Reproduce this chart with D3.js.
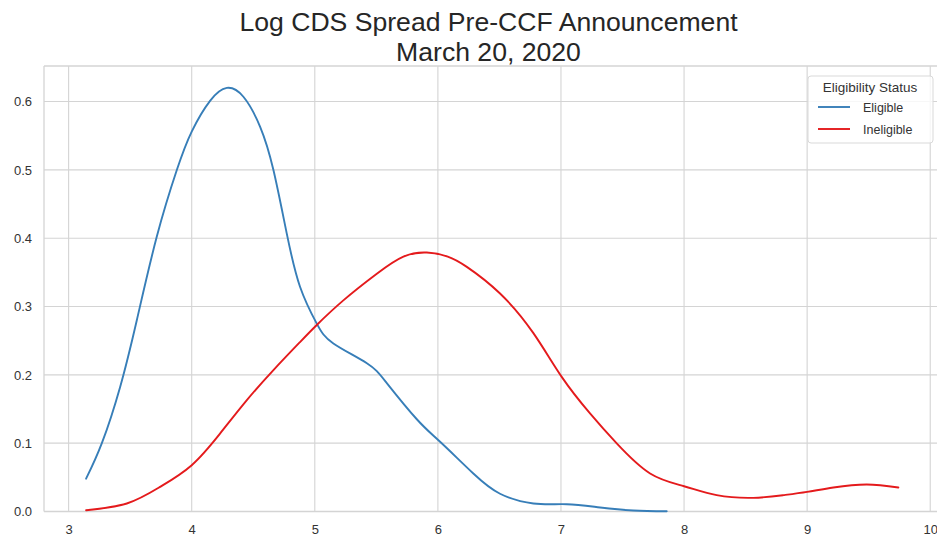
<!DOCTYPE html>
<html>
<head>
<meta charset="utf-8">
<script src="https://cdn.jsdelivr.net/npm/d3@7"></script>
<style>
  html, body { margin: 0; padding: 0; background: #fff; }
  svg { display: block; font-family: "Liberation Sans", Arial, sans-serif; }
</style>
</head>
<body>
<svg id="chart" width="937" height="539"></svg>
<script>
// Kernel density estimates of log CDS spread, by eligibility status
const eligibleX = [3.142, 3.27, 3.418, 3.554, 3.716, 3.879, 4.0, 4.149, 4.285, 4.42, 4.556, 4.664, 4.772, 4.88, 5.016, 5.151, 5.423, 5.585, 5.829, 6.018, 6.288, 6.505, 6.776, 7.047, 7.318, 7.588, 7.859];
const eligibleY = [0.048, 0.1, 0.182, 0.280, 0.402, 0.4997, 0.556, 0.601, 0.620, 0.607, 0.563, 0.4997, 0.407, 0.329, 0.275, 0.246, 0.217, 0.188, 0.135, 0.102, 0.0556, 0.026, 0.0117, 0.0107, 0.0059, 0.0015, 0.0004];

const ineligibleX = [3.142, 3.473, 3.743, 4.0, 4.23, 4.448, 4.664, 4.88, 5.016, 5.232, 5.504, 5.72, 5.91, 6.08, 6.235, 6.505, 6.776, 7.006, 7.236, 7.453, 7.724, 8.0, 8.265, 8.563, 8.807, 9.0, 9.213, 9.484, 9.741];
const ineligibleY = [0.0019, 0.0117, 0.036, 0.0678, 0.114, 0.163, 0.207, 0.248, 0.273, 0.309, 0.348, 0.373, 0.379, 0.373, 0.358, 0.319, 0.261, 0.197, 0.1435, 0.0996, 0.0556, 0.037, 0.0239, 0.020, 0.0239, 0.0287, 0.0351, 0.0395, 0.0351];

const seriesNames = ["Eligible", "Ineligible"];
const seriesColors = ["#377eb8", "#e41a1c"];
const xTicks = [3, 4, 5, 6, 7, 8, 9, 10];
const yTicks = [0.0, 0.1, 0.2, 0.3, 0.4, 0.5, 0.6];
const titleLines = ["Log CDS Spread Pre-CCF Announcement", "March 20, 2020"];
const legendTitle = "Eligibility Status";

const series = [
  { name: seriesNames[0], color: seriesColors[0], pts: eligibleX.map((x, i) => [x, eligibleY[i]]) },
  { name: seriesNames[1], color: seriesColors[1], pts: ineligibleX.map((x, i) => [x, ineligibleY[i]]) }
];

const svg = d3.select("#chart");
const margin = { left: 44, top: 66, right: 945, bottom: 511.5 };

const x = d3.scaleLinear().domain([2.8, 10.12]).range([margin.left, margin.right]);
const y = d3.scaleLinear().domain([0, 0.652]).range([margin.bottom, margin.top]);

const gridColor = "#d4d4d4";
const textColor = "#333";

// grid
const g = svg.append("g");
g.selectAll("line.vgrid").data(xTicks).join("line")
  .attr("x1", d => x(d)).attr("x2", d => x(d))
  .attr("y1", margin.top).attr("y2", margin.bottom)
  .attr("stroke", gridColor).attr("stroke-width", 1.1);
g.selectAll("line.hgrid").data(yTicks).join("line")
  .attr("x1", margin.left).attr("x2", margin.right)
  .attr("y1", d => y(d)).attr("y2", d => y(d))
  .attr("stroke", gridColor).attr("stroke-width", 1.1);

// frame (left, top, bottom spines)
g.append("line").attr("x1", margin.left).attr("x2", margin.left).attr("y1", margin.top).attr("y2", margin.bottom)
  .attr("stroke", gridColor).attr("stroke-width", 1.3);
g.append("line").attr("x1", margin.left).attr("x2", margin.right).attr("y1", margin.top).attr("y2", margin.top)
  .attr("stroke", gridColor).attr("stroke-width", 1.3);
g.append("line").attr("x1", margin.left).attr("x2", margin.right).attr("y1", margin.bottom).attr("y2", margin.bottom)
  .attr("stroke", gridColor).attr("stroke-width", 1.3);

// axes tick labels
const xAxis = d3.axisBottom(x).tickValues(xTicks).tickSize(0).tickPadding(13).tickFormat(d3.format("d"));
const xg = svg.append("g").attr("transform", `translate(0,${margin.bottom})`).call(xAxis);
xg.select(".domain").remove();
xg.selectAll("text").attr("fill", textColor).style("font-size", "13px").style("font-family", "Liberation Sans, Arial, sans-serif");

const yAxis = d3.axisLeft(y).tickValues(yTicks).tickSize(0).tickPadding(12).tickFormat(d3.format(".1f"));
const yg = svg.append("g").attr("transform", `translate(${margin.left},0)`).call(yAxis);
yg.select(".domain").remove();
yg.selectAll("text").attr("fill", textColor).style("font-size", "13px").style("font-family", "Liberation Sans, Arial, sans-serif");

// density curves
const line = d3.line().x(d => x(d[0])).y(d => y(d[1])).curve(d3.curveNatural);
svg.selectAll("path.kde").data(series).join("path")
  .attr("class", "kde")
  .attr("d", d => line(d.pts))
  .attr("fill", "none")
  .attr("stroke", d => d.color)
  .attr("stroke-width", 1.9)
  .attr("stroke-linecap", "round");

// title
const title = svg.append("text").attr("text-anchor", "middle").attr("fill", "#262626")
  .style("font-size", "26.6px");
titleLines.forEach((t, i) => {
  title.append("tspan").attr("x", (margin.left + margin.right) / 2 - 6).attr("y", 31 + i * 30).text(t);
});

// legend
const lg = svg.append("g").attr("transform", "translate(808,76)");
lg.append("rect").attr("x", 0).attr("y", 0).attr("width", 125).attr("height", 67).attr("rx", 3)
  .attr("fill", "#fff").attr("fill-opacity", 0.8).attr("stroke", "#d9d9d9");
lg.append("text").attr("x", 62).attr("y", 16).attr("text-anchor", "middle").attr("fill", textColor)
  .style("font-size", "13.5px").text(legendTitle);
series.forEach((s, i) => {
  const yy = 31 + i * 22;
  lg.append("line").attr("x1", 10).attr("x2", 42).attr("y1", yy).attr("y2", yy)
    .attr("stroke", s.color).attr("stroke-width", 1.9);
  lg.append("text").attr("x", 55).attr("y", yy + 4.5).attr("fill", textColor)
    .style("font-size", "12.5px").text(s.name);
});
</script>
</body>
</html>
